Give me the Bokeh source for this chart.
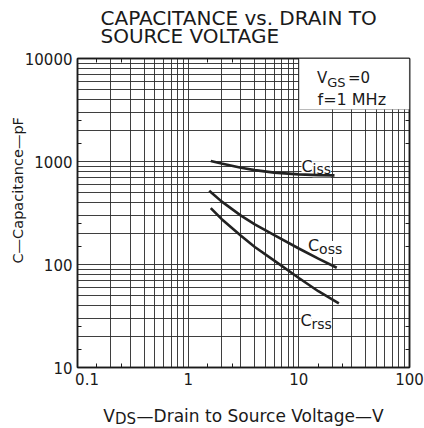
import math
from bokeh.plotting import figure
from bokeh.models import FixedTicker, LogAxis, Label, BoxAnnotation, Range1d, Title
from bokeh.embed import file_html
from bokeh.resources import INLINE

# ---- data ----
ciss_v = [1.6, 2, 3, 4, 6, 10, 15, 21]
ciss_c = [1010, 955, 870, 825, 780, 750, 738, 733]
coss_v = [1.55, 2, 3, 4, 6, 10, 15, 22]
coss_c = [520, 410, 298, 245, 193, 143, 114, 93]
crss_v = [1.6, 2, 3, 4, 6, 10, 15, 23]
crss_c = [353, 277, 190, 148, 109, 74, 55, 42]

x_ticks = [0.1, 1, 10, 100]
x_tick_labels = ["\u00a0\u00a0\u00a0\u00a00.1", "1", "10", "100"]
y_ticks = [10, 100, 1000, 10000]
y_tick_labels = ["10", "100", "1000", "10000"]

FONT = "DejaVu Sans"
INK = "#1a1a1a"
NB = "\u00a0"

W, H = 424, 428
FL, FR, FT, FB = 77, 409, 58, 370   # frame edges in px (annotation placement only)
p = figure(width=W, height=H, x_axis_type="log", y_axis_type="log",
           x_range=Range1d(0.1, 100), y_range=Range1d(10, 10000),
           output_backend="svg", toolbar_location=None, title=None,
           min_border_left=FL, min_border_right=W - FR,
           min_border_top=FT, min_border_bottom=H - FB,
           background_fill_color="white", border_fill_color="white")

def at(px, py):
    return (10 ** (-1 + 3 * (px - FL) / (FR - FL)),
            10 ** (4 - 3 * (py - FT) / (FB - FT)))

decades_x = [0.1, 1, 10]
decades_y = [10, 100, 1000]
grid_x = [m * d for d in decades_x for m in range(1, 10)] + [100]
grid_y = [m * d for d in decades_y for m in range(1, 10)] + [10000]
minor_x = [f * d for d in decades_x for f in (1.5, 2.5)]
minor_y = [f * d for d in decades_y for f in (1.5, 2.5)]

p.xgrid.ticker = FixedTicker(ticks=grid_x)
p.ygrid.ticker = FixedTicker(ticks=grid_y)
for g in (p.xgrid, p.ygrid):
    g.grid_line_color = "#2a2a2a"
    g.grid_line_width = 1
    g.grid_line_alpha = 0.9

def style_axis(ax, ticks, minor, labels, standoff=5):
    ax.ticker = FixedTicker(ticks=ticks, minor_ticks=minor)
    ax.major_tick_in = 0
    ax.major_tick_out = 0
    ax.minor_tick_in = 4
    ax.minor_tick_out = 0
    ax.minor_tick_line_color = INK
    ax.axis_line_color = INK
    ax.axis_line_width = 1.5
    if labels is None:
        ax.major_label_text_alpha = 0
        ax.major_label_text_font_size = "2px"
        ax.major_label_standoff = 0
    else:
        ax.major_label_overrides = labels
        ax.major_label_text_font = FONT
        ax.major_label_text_font_size = "15px"
        ax.major_label_text_color = INK
        ax.major_label_standoff = standoff

xax = p.xaxis[0]
style_axis(xax, x_ticks, minor_x,
           {t: s for t, s in zip(x_ticks, x_tick_labels)}, standoff=3)
xax.axis_label = "V" + NB * 4 + "\u2014Drain to Source Voltage\u2014V"
xax.axis_label_text_font = FONT
xax.axis_label_text_font_size = "17px"
xax.axis_label_text_font_style = "normal"
xax.axis_label_text_color = INK
xax.axis_label_standoff = 14
style_axis(p.yaxis[0], y_ticks, minor_y,
           {t: s for t, s in zip(y_ticks, y_tick_labels)}, standoff=5)
top = LogAxis()
style_axis(top, x_ticks, minor_x, None)
p.add_layout(top, "above")
right = LogAxis()
style_axis(right, y_ticks, minor_y, None)
p.add_layout(right, "right")
p.outline_line_color = INK
p.outline_line_width = 1.5

def lab(px, py, text, size, bg=None, align="left", level="annotation"):
    x, y = at(px, py)
    kw = dict(x=x, y=y, text=text, text_font=FONT, text_font_size=f"{size}px",
              text_color=INK, text_align=align, text_baseline="alphabetic",
              level=level)
    if bg:
        kw.update(background_fill_color=bg, background_fill_alpha=1.0)
    p.add_layout(Label(**kw))

# curve names with subscripts (under the curves, over the grid)
lab(301.0, 166.7, "C", 16, bg="white", level="underlay")
lab(312.0, 169.8, "iss", 14, bg="white", level="underlay")
lab(307.6, 247.3, "C", 16, bg="white", level="underlay")
lab(318.6, 250.3, "oss", 14, bg="white", level="underlay")
lab(300.0, 322.7, "C", 16, bg="white", level="underlay")
lab(311.0, 326.0, "rss", 14, bg="white", level="underlay")

# curves
for xs, ys in ((ciss_v, ciss_c), (coss_v, coss_c), (crss_v, crss_c)):
    p.line(xs, ys, line_width=2.6, line_color="#222222")

# conditions box
bx0, by0 = at(298.5, 109.5)
p.add_layout(BoxAnnotation(left=bx0, right=100, bottom=by0, top=10000,
                           fill_color="white", fill_alpha=1,
                           line_color=INK, line_width=1.2))

# conditions text
lab(316.5, 77.7, "V", 15)
lab(326.8, 81.8, "GS", 13)
lab(347.5, 77.7, "=0", 15)
lab(317.0, 99.5, "f=1 MHz", 16)

def ttl(text, side, size, offset, standoff, valign):
    t = Title(text=text, align="left", offset=offset, standoff=standoff,
              vertical_align=valign, text_font=FONT, text_font_size=f"{size}px",
              text_font_style="normal", text_color=INK)
    p.add_layout(t, side)

# chart title: second line is nearest the frame
ttl("SOURCE VOLTAGE", "above", 20, 23, 22, "bottom")
ttl("CAPACITANCE vs. DRAIN TO", "above", 20, 23, -38, "bottom")
# y axis title
ttl("C\u2014Capacitance\u2014pF", "left", 14.5, 104, -8, "bottom")
# subscript of V_DS in the x axis title
ttl("DS", "below", 15, 37.5, -37, "top")

open("out.html", "w").write(file_html(p, INLINE))
